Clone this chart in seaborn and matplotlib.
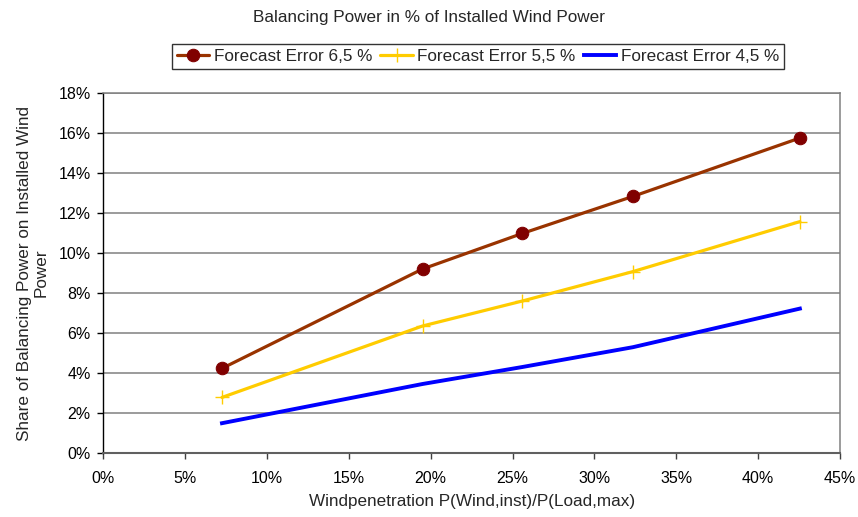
import matplotlib
matplotlib.use("Agg")
import matplotlib.pyplot as plt
import seaborn as sns
import pandas as pd
from matplotlib.ticker import PercentFormatter, MultipleLocator

penetration = [7.25, 19.5, 25.6, 32.35, 42.55]
err_65 = [4.23, 9.2, 10.98, 12.83, 15.75]
err_55 = [2.78, 6.35, 7.6, 9.07, 11.57]
err_45 = [1.49, 3.45, 4.3, 5.29, 7.22]
labels = ["Forecast Error 6,5 %", "Forecast Error 5,5 %", "Forecast Error 4,5 %"]

sns.set_theme(style="white")
plt.rcParams["font.family"] = ["Liberation Sans", "DejaVu Sans"]

FS = 11.5
FL = 12.3

fig = plt.figure(figsize=(8.58, 5.17), dpi=100)
ax = fig.add_axes([0.1204, 0.1238, 0.979 - 0.1204, 0.8201 - 0.1238])

df65 = pd.DataFrame({"x": penetration, "y": err_65})
df55 = pd.DataFrame({"x": penetration, "y": err_55})
df45 = pd.DataFrame({"x": penetration, "y": err_45})

sns.lineplot(data=df65, x="x", y="y", ax=ax, color="#993300", lw=2.3,
             marker="o", markersize=9, markerfacecolor="#800000",
             markeredgecolor="#800000", label=labels[0], zorder=5)
sns.lineplot(data=df55, x="x", y="y", ax=ax, color="#FFCC00", lw=2.3,
             marker="+", markersize=10, markeredgewidth=1.0,
             markeredgecolor="#FFCC00", label=labels[1], zorder=4)
sns.lineplot(data=df45, x="x", y="y", ax=ax, color="#0000FF", lw=2.8,
             label=labels[2], zorder=3, solid_capstyle="projecting")

ax.set_xlim(0, 45)
ax.set_ylim(0, 18)
ax.xaxis.set_major_locator(MultipleLocator(5))
ax.yaxis.set_major_locator(MultipleLocator(2))
ax.xaxis.set_major_formatter(PercentFormatter(decimals=0))
ax.yaxis.set_major_formatter(PercentFormatter(decimals=0))

ax.grid(axis="y", color="#808080", lw=1.1)
ax.grid(axis="x", visible=False)
for s in ["top", "right"]:
    ax.spines[s].set_color("#808080")
    ax.spines[s].set_linewidth(1.1)
ax.spines["left"].set_color("black")
ax.spines["left"].set_linewidth(1.0)
ax.spines["bottom"].set_color("#606060")
ax.spines["bottom"].set_linewidth(1.5)
ax.spines["bottom"].set_zorder(6)

ax.tick_params(axis="both", which="major", direction="out", length=4, width=1,
               colors="black", labelsize=FS, left=True, bottom=True)
ax.tick_params(axis="x", pad=9, color="#404040")
ax.tick_params(axis="y", pad=5)

ax.set_xlabel("Windpenetration P(Wind,inst)/P(Load,max)", fontsize=FL, labelpad=6)
ax.set_ylabel("Share of Balancing Power on Installed Wind\nPower", fontsize=FL,
              labelpad=7, linespacing=1.15)

fig.text(0.5, 0.967, "Balancing Power in % of Installed Wind Power",
         ha="center", va="center", fontsize=FL)

ax.get_legend().remove()
handles, lbls = ax.get_legend_handles_labels()
leg = fig.legend(handles, lbls, loc="center", bbox_to_anchor=(0.557, 0.89),
                 ncol=3, fontsize=FL, frameon=True, fancybox=False,
                 edgecolor="black", handlelength=1.9, handletextpad=0.25,
                 columnspacing=0.5, borderpad=0.3, borderaxespad=0)
leg.get_frame().set_linewidth(1.0)

fig.savefig("out.png", dpi=100)
